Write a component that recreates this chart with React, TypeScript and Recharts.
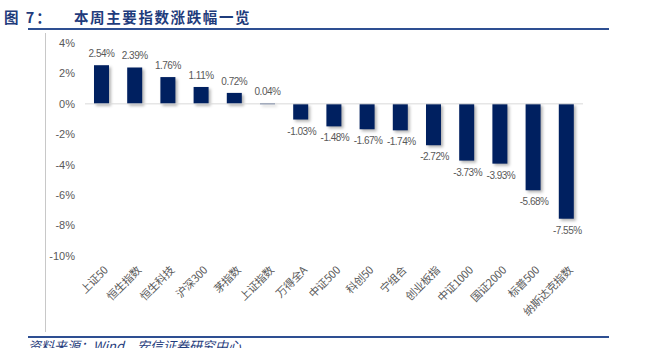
import { Bar, BarChart, LabelList, ReferenceLine, XAxis, YAxis } from "recharts";

const categories = [
  "上证50",
  "恒生指数",
  "恒生科技",
  "沪深300",
  "茅指数",
  "上证指数",
  "万得全A",
  "中证500",
  "科创50",
  "宁组合",
  "创业板指",
  "中证1000",
  "国证2000",
  "标普500",
  "纳斯达克指数",
];

const changes = [2.54, 2.39, 1.76, 1.11, 0.72, 0.04, -1.03, -1.48, -1.67, -1.74, -2.72, -3.73, -3.93, -5.68, -7.55];

const yTicks = [4, 2, 0, -2, -4, -6, -8, -10];

const data = categories.map((name, i) => ({ name, value: changes[i] }));

const NUM_FONT = "'Liberation Sans', 'Noto Sans CJK SC', sans-serif";
const CJK_FONT = "'Noto Sans CJK SC', sans-serif";
const NAVY = "#002060";
const GRAY = "#595959";
const TITLE_BLUE = "#1F3C7C";

const BarShape = (props: any) => {
  const { x, y, width, height } = props;
  const top = Math.min(y, y + height);
  const h = Math.max(Math.abs(height), 1);
  return (
    <rect
      x={x}
      y={top}
      width={width}
      height={h}
      fill={NAVY}
      style={{ filter: "drop-shadow(2px 2px 1.5px rgba(0,0,0,0.3))" }}
    />
  );
};

const ValueLabel = (props: any) => {
  const { x, y, width, height, value } = props;
  const top = Math.min(y, y + height);
  const bottom = Math.max(y, y + height);
  const cx = x + width / 2 + (value >= 0 ? 0 : 1);
  const ty = value >= 0 ? top - 8 : bottom + 15;
  return (
    <text
      x={cx}
      y={ty}
      textAnchor="middle"
      fontSize={10}
      letterSpacing={-0.5}
      fill={GRAY}
      fontFamily={NUM_FONT}
    >
      {`${value.toFixed(2)}%`}
    </text>
  );
};

const CategoryTick = (props: any) => {
  const { x, y, payload } = props;
  return (
    <g transform={`translate(${x + 7},${y + 7})`}>
      <text
        textAnchor="end"
        transform="rotate(-45)"
        fontSize={11}
        letterSpacing={-0.3}
        fill={GRAY}
        fontFamily={CJK_FONT}
      >
        {payload.value}
      </text>
    </g>
  );
};

const App = () => {
  return (
    <div
      style={{
        position: "absolute",
        left: 0,
        top: 0,
        width: 650,
        height: 348,
        overflow: "hidden",
        background: "#fff",
      }}
    >
      <div
        style={{
          position: "absolute",
          left: 4,
          top: 6,
          fontFamily: CJK_FONT,
          fontWeight: 700,
          fontSize: 14.5,
          letterSpacing: 2,
          color: TITLE_BLUE,
          whiteSpace: "nowrap",
        }}
      >
        图 7：
      </div>
      <div
        style={{
          position: "absolute",
          left: 74,
          top: 6,
          fontFamily: CJK_FONT,
          fontWeight: 700,
          fontSize: 14.5,
          letterSpacing: 1.6,
          color: TITLE_BLUE,
          whiteSpace: "nowrap",
        }}
      >
        本周主要指数涨跌幅一览
      </div>
      <div style={{ position: "absolute", left: 28, top: 28, width: 581, height: 2, background: "#2E4F92" }} />
      <div style={{ position: "absolute", left: 45, top: 33, width: 1, height: 299, background: "#c8c8c8" }} />
      <div style={{ position: "absolute", left: 28, top: 336, width: 581, height: 2, background: "#2E4F92" }} />
      <div
        style={{
          position: "absolute",
          left: 28,
          top: 338,
          fontFamily: CJK_FONT,
          fontStyle: "italic",
          fontSize: 13,
          lineHeight: "16px",
          color: TITLE_BLUE,
          whiteSpace: "nowrap",
        }}
      >
        资料来源：Wind，安信证券研究中心
      </div>
      <div style={{ position: "absolute", left: 0, top: 0 }}>
        <BarChart width={650} height={348} data={data} margin={{ top: 43, right: 67, left: 0, bottom: 0 }}>
          <XAxis
            dataKey="name"
            interval={0}
            axisLine={false}
            tickLine={false}
            height={92}
            tick={<CategoryTick />}
          />
          <YAxis
            width={85}
            domain={[-10, 4]}
            ticks={yTicks}
            allowDataOverflow
            axisLine={false}
            tickLine={false}
            tickMargin={4}
            tickFormatter={(v: number) => `${v}%`}
            tick={{ fontSize: 11, fill: GRAY, fontFamily: NUM_FONT }}
          />
          <ReferenceLine y={0} stroke="#d9d9d9" strokeWidth={1} />
          <Bar dataKey="value" barSize={15} shape={<BarShape />} isAnimationActive={false}>
            <LabelList dataKey="value" content={<ValueLabel />} />
          </Bar>
        </BarChart>
      </div>
    </div>
  );
};

export default App;
